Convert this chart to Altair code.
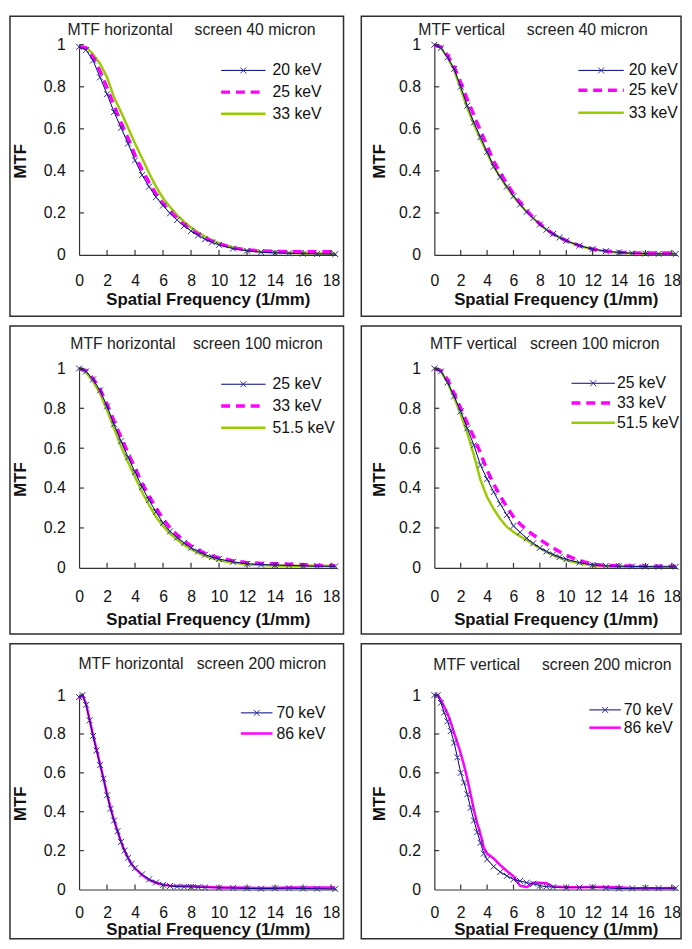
import altair as alt
import pandas as pd

FONT = "Liberation Sans, Arial, sans-serif"
NB = "\u00a0"

X_TICKS = [0, 2, 4, 6, 8, 10, 12, 14, 16, 18]
Y_TICKS = [0, 0.2, 0.4, 0.6, 0.8, 1.0]

# spatial frequency samples (1/mm)
F = [0, 0.5, 1, 1.5, 2, 2.5, 3, 3.5, 4, 4.5, 5, 5.5, 6, 6.5, 7, 7.5, 8, 8.5,
     9, 9.5, 10, 11, 12, 13, 14, 15, 16, 17, 18.3]
F_FINE = [0, 0.25, 0.5, 0.75, 1, 1.25, 1.5, 1.75, 2, 2.25, 2.5, 2.75, 3, 3.25,
          3.5, 3.75, 4, 4.5, 5, 5.5, 6, 6.5, 7, 7.5, 8, 8.5, 9, 10, 11, 12,
          13, 14, 15, 16, 17, 18.3]

TITLES = [
    "MTF horizontal" + NB * 5 + "screen 40 micron",
    "MTF vertical" + NB * 5 + "screen 40 micron",
    "MTF horizontal" + NB * 4 + "screen 100 micron",
    "MTF vertical" + NB * 3 + "screen 100 micron",
    "MTF horizontal" + NB * 3 + "screen 200 micron",
    "MTF vertical" + NB * 5 + "screen 200 micron",
]

H40_LABELS = ["20 keV", "25 keV", "33 keV"]
H40_20 = [0.99, 0.975, 0.925, 0.845, 0.765, 0.68, 0.605, 0.53, 0.45, 0.38,
          0.325, 0.275, 0.235, 0.198, 0.166, 0.138, 0.114, 0.093, 0.075, 0.06,
          0.048, 0.03, 0.02, 0.013, 0.01, 0.008, 0.006, 0.005, 0.004]
H40_25 = [0.99, 0.985, 0.94, 0.875, 0.795, 0.71, 0.63, 0.555, 0.475, 0.405,
          0.345, 0.29, 0.245, 0.207, 0.174, 0.145, 0.12, 0.1, 0.08, 0.066,
          0.053, 0.034, 0.024, 0.019, 0.017, 0.016, 0.015, 0.015, 0.015]
H40_33 = [0.99, 0.99, 0.955, 0.91, 0.845, 0.75, 0.68, 0.605, 0.53, 0.46,
          0.39, 0.325, 0.27, 0.228, 0.19, 0.158, 0.13, 0.108, 0.088, 0.07,
          0.056, 0.036, 0.022, 0.015, 0.012, 0.01, 0.008, 0.007, 0.006]

V40_LABELS = ["20 keV", "25 keV", "33 keV"]
V40_20 = [1.0, 0.985, 0.94, 0.885, 0.80, 0.71, 0.63, 0.56, 0.49, 0.42,
          0.37, 0.325, 0.28, 0.24, 0.205, 0.175, 0.145, 0.12, 0.1, 0.083,
          0.068, 0.044, 0.028, 0.018, 0.012, 0.008, 0.006, 0.005, 0.005]
V40_25 = [1.0, 0.99, 0.95, 0.895, 0.82, 0.74, 0.665, 0.59, 0.52, 0.445,
          0.39, 0.34, 0.29, 0.25, 0.21, 0.178, 0.148, 0.122, 0.1, 0.083,
          0.068, 0.044, 0.028, 0.019, 0.013, 0.01, 0.009, 0.009, 0.009]
V40_33 = [1.0, 0.985, 0.94, 0.88, 0.79, 0.70, 0.62, 0.55, 0.485, 0.42,
          0.37, 0.322, 0.278, 0.24, 0.205, 0.174, 0.145, 0.12, 0.1, 0.082,
          0.067, 0.043, 0.027, 0.017, 0.011, 0.008, 0.006, 0.005, 0.005]

H100_LABELS = ["25 keV", "33 keV", "51.5 keV"]
H100_25 = [1.0, 0.985, 0.945, 0.89, 0.81, 0.72, 0.635, 0.555, 0.48, 0.405,
           0.34, 0.28, 0.225, 0.183, 0.152, 0.125, 0.1, 0.082, 0.066, 0.054,
           0.044, 0.03, 0.02, 0.016, 0.014, 0.012, 0.01, 0.008, 0.007]
H100_33 = [1.0, 0.99, 0.95, 0.895, 0.82, 0.735, 0.655, 0.575, 0.5, 0.425,
           0.36, 0.3, 0.245, 0.2, 0.165, 0.135, 0.11, 0.09, 0.073, 0.06,
           0.05, 0.035, 0.026, 0.022, 0.02, 0.018, 0.016, 0.012, 0.01]
H100_515 = [1.0, 0.98, 0.935, 0.875, 0.79, 0.70, 0.61, 0.53, 0.455, 0.38,
            0.315, 0.255, 0.21, 0.172, 0.142, 0.115, 0.093, 0.075, 0.06, 0.048,
            0.038, 0.025, 0.018, 0.014, 0.012, 0.01, 0.01, 0.01, 0.01]

V100_LABELS = ["25 keV", "33 keV", "51.5 keV"]
V100_25 = [1.0, 0.985, 0.93, 0.86, 0.785, 0.70, 0.615, 0.515, 0.445, 0.38,
           0.32, 0.265, 0.21, 0.178, 0.148, 0.123, 0.1, 0.082, 0.067, 0.054,
           0.043, 0.026, 0.015, 0.01, 0.008, 0.007, 0.006, 0.005, 0.005]
V100_33 = [1.0, 0.99, 0.945, 0.875, 0.80, 0.725, 0.655, 0.575, 0.49, 0.42,
           0.36, 0.305, 0.255, 0.22, 0.19, 0.165, 0.142, 0.12, 0.1, 0.08,
           0.063, 0.035, 0.018, 0.012, 0.01, 0.009, 0.008, 0.008, 0.008]
V100_515 = [1.0, 0.985, 0.93, 0.855, 0.77, 0.675, 0.565, 0.44, 0.355, 0.295,
            0.245, 0.205, 0.18, 0.158, 0.138, 0.118, 0.098, 0.08, 0.064, 0.05,
            0.038, 0.022, 0.012, 0.008, 0.006, 0.005, 0.005, 0.005, 0.005]

H200_LABELS = ["70 keV", "86 keV"]
H200_70 = [0.99, 1.0, 0.95, 0.87, 0.79, 0.715, 0.64, 0.57, 0.485, 0.415,
           0.355, 0.3, 0.245, 0.2, 0.163, 0.132, 0.11, 0.078, 0.052, 0.036,
           0.024, 0.018, 0.015, 0.014, 0.013, 0.012, 0.01, 0.009, 0.008, 0.006,
           0.004, 0.006, 0.007, 0.005, 0.004, 0.003]
H200_86 = [0.98, 1.0, 0.955, 0.875, 0.795, 0.72, 0.645, 0.57, 0.49, 0.42,
           0.355, 0.3, 0.245, 0.2, 0.163, 0.13, 0.108, 0.075, 0.05, 0.035,
           0.025, 0.02, 0.018, 0.018, 0.018, 0.016, 0.014, 0.01, 0.01, 0.009,
           0.008, 0.008, 0.01, 0.01, 0.01, 0.01]

V200_LABELS = ["70 keV", "86 keV"]
V200_70 = [1.0, 1.0, 0.96, 0.91, 0.865, 0.815, 0.755, 0.68, 0.60, 0.55,
           0.49, 0.42, 0.355, 0.295, 0.24, 0.185, 0.155, 0.118, 0.09, 0.07,
           0.052, 0.044, 0.035, 0.03, 0.02, 0.015, 0.012, 0.01, 0.01, 0.012,
           0.008, 0.005, 0.006, 0.008, 0.007, 0.007]
V200_86 = [1.0, 1.0, 0.975, 0.94, 0.905, 0.86, 0.805, 0.755, 0.70, 0.64,
           0.57, 0.49, 0.41, 0.34, 0.285, 0.215, 0.185, 0.16, 0.125, 0.095,
           0.068, 0.02, 0.012, 0.035, 0.035, 0.032, 0.015, 0.012, 0.012, 0.013,
           0.013, 0.012, 0.006, 0.006, 0.007, 0.008]

PANELS = [
    (F, H40_LABELS, [H40_20, H40_25, H40_33]),
    (F, V40_LABELS, [V40_20, V40_25, V40_33]),
    (F, H100_LABELS, [H100_25, H100_33, H100_515]),
    (F, V100_LABELS, [V100_25, V100_33, V100_515]),
    (F_FINE, H200_LABELS, [H200_70, H200_86]),
    (F_FINE, V200_LABELS, [V200_70, V200_86]),
]

BLUE = dict(color="#000080", width=1.0, dash=None, markers=True)
MAG_DASH = dict(color="#FF00FF", width=3.5, dash=[9, 6], markers=False)
GREEN = dict(color="#99CC00", width=2.5, dash=None, markers=False)
MAG_SOLID = dict(color="#FF00FF", width=2.5, dash=None, markers=False)
STYLES = [[BLUE, MAG_DASH, GREEN]] * 4 + [[BLUE, MAG_SOLID]] * 2

COLS = [dict(L=70, W=261, R=7, tx=-50), dict(L=74, W=246, R=4, tx=-46)]
ROWS = [dict(T=29, H=213, B=62, lp=18, ty=37),
        dict(T=43, H=202, B=67, lp=21, ty=44),
        dict(T=52, H=197, B=50, lp=15, ty=33)]
LEG = [(144, 189, 196, [26, 48, 70]),
       (146, 192, 197, [26, 46, 69]),
       (144, 189, 196, [16, 38, 60]),
       (139, 183, 185, [15, 35, 55]),
       (164, 196, 200, [18, 39]),
       (157, 189, 192, [15, 33])]
TPOS = [(114, -15, "center"), (100, -15, "center"), (119, -25, "center"),
        (112, -25, "center"), (125, -31, "center"), (-1, -30, "left")]

X_PATH = "M-1,-1L1,1M-1,1L1,-1"
INK = "#111111"
AXC = "#333333"


def line_kwargs(st):
    kw = dict(color=st["color"], strokeWidth=st["width"])
    if st["dash"] is not None:
        kw["strokeDash"] = st["dash"]
    return kw


def make_panel(k):
    fvals, labels, series = PANELS[k]
    c, r = COLS[k % 2], ROWS[k // 2]
    W, H = c["W"], r["H"]
    styles = STYLES[k]

    x_enc = alt.X("f:Q", scale=alt.Scale(domain=[0, 18.4], nice=False, zero=False),
                  axis=alt.Axis(values=X_TICKS, format="d", labelFlush=False,
                                labelOverlap=False, ticks=False, tickSize=0, grid=False,
                                domainColor=AXC, domainWidth=1.2, labelFont=FONT,
                                labelFontSize=16, labelColor=INK, labelPadding=r["lp"],
                                title="Spatial Frequency (1/mm)", titleFont=FONT,
                                titleFontSize=17, titleFontWeight="bold", titleColor=INK,
                                titleY=r["ty"], titleBaseline="top"))
    y_enc = alt.Y("v:Q", scale=alt.Scale(domain=[0, 1], nice=False),
                  axis=alt.Axis(values=Y_TICKS, format=".1~f", labelFlush=False,
                                labelOverlap=False, ticks=False, tickSize=0, grid=False,
                                domainColor=AXC, domainWidth=1.2, labelFont=FONT,
                                labelFontSize=16, labelColor=INK, labelPadding=14,
                                title="MTF", titleFont=FONT, titleFontSize=17,
                                titleFontWeight="bold", titleColor=INK,
                                titleX=c["tx"], titleY=H / 2 + 11))

    one = alt.Data(values=[{"a": 1}])
    layers = []
    # panel frame
    layers.append(alt.Chart(one).mark_rect(fill="transparent", stroke="#2e2e2e", strokeWidth=1.5)
                  .encode(x=alt.value(-c["L"]), x2=alt.value(W + c["R"]),
                          y=alt.value(-r["T"]), y2=alt.value(H + r["B"])))

    # curves (blue series drawn last, on top)
    for j in reversed(range(len(labels))):
        st = styles[j]
        df = pd.DataFrame({"f": fvals, "v": series[j]})
        layers.append(alt.Chart(df).mark_line(**line_kwargs(st)).encode(x=x_enc, y=y_enc))
        if st["markers"]:
            layers.append(alt.Chart(df).mark_point(shape=X_PATH, size=36, strokeWidth=1,
                                                   filled=False, color="#2b2b9a", opacity=1)
                          .encode(x=x_enc, y=y_enc))

    # inward tick marks
    ytk = pd.DataFrame({"v": Y_TICKS[1:]})
    layers.append(alt.Chart(ytk).mark_rule(color=AXC, strokeWidth=1.2)
                  .encode(y=y_enc, x=alt.value(0), x2=alt.value(5)))
    xtk = pd.DataFrame({"f": X_TICKS[1:]})
    layers.append(alt.Chart(xtk).mark_rule(color=AXC, strokeWidth=1.2)
                  .encode(x=x_enc, y=alt.value(H), y2=alt.value(H - 5)))

    # legend
    lx0, lx1, ltx, lys = LEG[k]
    for j, name in enumerate(labels):
        st = styles[j]
        ly = lys[j]
        layers.append(alt.Chart(one).mark_rule(**line_kwargs(st))
                      .encode(x=alt.value(lx0), x2=alt.value(lx1), y=alt.value(ly)))
        if st["markers"]:
            layers.append(alt.Chart(one).mark_point(shape=X_PATH, size=36, strokeWidth=1,
                                                    filled=False, color="#2b2b9a", opacity=1)
                          .encode(x=alt.value((lx0 + lx1) / 2), y=alt.value(ly)))
        layers.append(alt.Chart(one).mark_text(align="left", baseline="middle", font=FONT,
                                               fontSize=16, color=INK)
                      .encode(x=alt.value(ltx), y=alt.value(ly), text=alt.value(name)))

    # panel title
    tx, ty, ta = TPOS[k]
    layers.append(alt.Chart(one).mark_text(align=ta, baseline="middle", font=FONT,
                                           fontSize=16, color="#222222")
                  .encode(x=alt.value(tx), y=alt.value(ty), text=alt.value(TITLES[k])))

    return alt.layer(*layers).properties(width=W, height=H)


panels = [make_panel(k) for k in range(6)]

chart = alt.ConcatChart(
    concat=panels, columns=2, spacing={"row": 6, "column": 14},
    align="each", bounds="full", padding=0,
    background="white",
).configure_view(stroke="transparent")

chart.save("out.html", embed_options={"renderer": "svg", "actions": False})
